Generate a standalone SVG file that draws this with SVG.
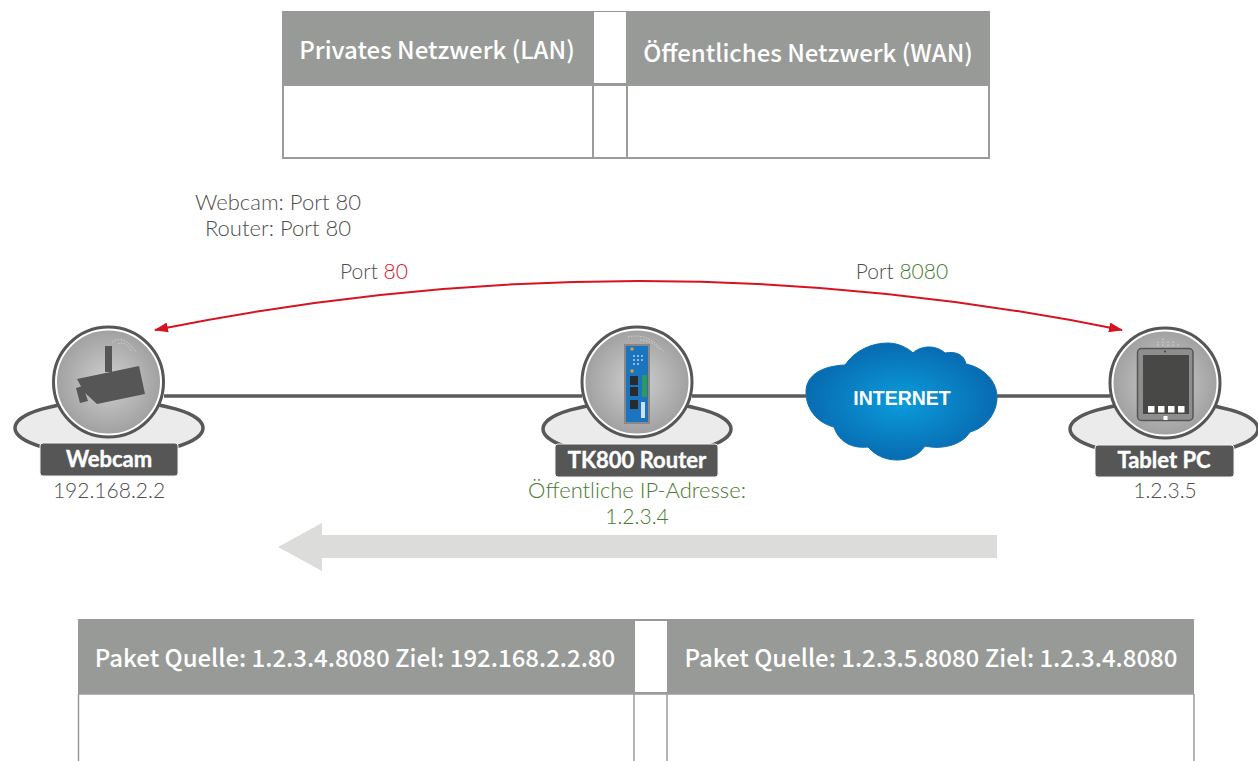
<svg xmlns="http://www.w3.org/2000/svg" width="1258" height="761" viewBox="0 0 1258 761">
<style>
.hd{fill:#989a98}
.bd{fill:#fff;stroke:#9a9c9a;stroke-width:2}
.th{font-family:"Noto Sans CJK SC","Source Sans Pro","Noto Sans",sans-serif;font-weight:500;font-size:24px;fill:#fff;text-anchor:middle}
.t{font-family:Lato,"Noto Sans",sans-serif;font-weight:300;font-size:22px;fill:#4f4f4f;text-anchor:middle}
.s{font-size:21px}
.g{fill:#4a7a30}
.r{fill:#d8121f}
.lb{font-family:Lato,"Open Sans",sans-serif;font-weight:700;font-size:22px;fill:#fff;stroke:#fff;stroke-width:.4;text-anchor:middle}
.pl{fill:#555655;stroke:#f2f2f2;stroke-width:1}
.el{fill:#ebebeb;stroke:#585858;stroke-width:3.5}
.disc{fill:url(#disc);stroke:#fff;stroke-width:3}
.ring{fill:none;stroke:#565656;stroke-width:3}
.link{stroke:#5b5b5b;stroke-width:3.5;fill:none}
.ic{fill:#565656}
.wv{fill:none;stroke:#d6d6d6;stroke-width:1;stroke-dasharray:1.500 1.500}
</style>
<defs>
<radialGradient id="disc" cx="50%" cy="50%" r="50%"><stop offset="0" stop-color="#d0d0d0"/><stop offset="1" stop-color="#a0a0a0"/></radialGradient>
<radialGradient id="cl" cx="50%" cy="50%" r="55%"><stop offset="0" stop-color="#0a9ddd"/><stop offset="1" stop-color="#0866ac"/></radialGradient>
<marker id="ah" viewBox="0 0 14 10" refX="13" refY="5" markerWidth="14" markerHeight="10" markerUnits="userSpaceOnUse" orient="auto-start-reverse"><path d="M0 0L14 5L0 10Z" fill="#d8121f"/></marker>
</defs>

<g id="table-top">
<rect class="hd" x="282" y="11" width="708" height="73"/>
<rect x="594" y="12" width="32" height="71" fill="#fff"/>
<rect class="bd" x="283" y="85" width="310" height="73"/>
<rect class="bd" x="593" y="85" width="34" height="73"/>
<rect class="bd" x="627" y="85" width="362" height="73"/>
<text class="th" x="437" y="59">Privates Netzwerk (LAN)</text>
<text class="th" x="808" y="62">Öffentliches Netzwerk (WAN)</text>
</g>

<g id="labels">
<text class="t" x="278" y="210">Webcam: Port 80</text>
<text class="t" x="278" y="236">Router: Port 80</text>
<text class="t s" x="374" y="279">Port <tspan class="r">80</tspan></text>
<text class="t s" x="902" y="279">Port <tspan class="g">8080</tspan></text>
</g>

<g id="connectors">
<path class="link" d="M164 396H582M692 396H806M997 396H1110"/>
<path d="M155 330Q639 232 1122 330" fill="none" stroke="#d8121f" stroke-width="2" marker-start="url(#ah)" marker-end="url(#ah)"/>
<path id="flow-arrow" d="M997 535H322V523L278 547L322 571V558H997Z" fill="#dcdcda"/>
</g>

<g id="node-webcam">
<ellipse class="el" cx="109" cy="428" rx="94" ry="27"/>
<circle class="disc" cx="108.500" cy="382" r="53"/>
<circle class="ring" cx="108.500" cy="382" r="55"/>
<path class="wv" d="M112 342Q124 334 136 352M118 344Q126 340 132 352"/>
<path class="ic" d="M105 346H112V372H105ZM77 379L139 366L145 394L97 404L84 392Z"/>
<path class="ic" d="M76 388L83 386L88 401L80 403Z"/>
<rect class="pl" x="40" y="443" width="138" height="33" rx="3"/>
<text class="lb" x="109" y="467">Webcam</text>
<text class="t s" x="109" y="498">192.168.2.2</text>
</g>

<g id="node-router">
<ellipse class="el" cx="637" cy="429" rx="94" ry="27"/>
<circle class="disc" cx="637" cy="382" r="53"/>
<circle class="ring" cx="637" cy="382" r="55"/>
<path class="wv" d="M628 337Q648 332 664 352M640 340Q652 340 660 350"/>
<rect x="624" y="344" width="26" height="80" fill="#888"/>
<rect x="626" y="346" width="22" height="76" fill="#1a74c0"/>
<circle cx="632" cy="349" r="1.800" fill="#d89a3a"/>
<circle cx="632" cy="371" r="1.800" fill="#d89a3a"/>
<g fill="#b8cfe4"><circle cx="634" cy="356" r="1"/><circle cx="638" cy="356" r="1"/><circle cx="642" cy="356" r="1"/><circle cx="634" cy="360" r="1"/><circle cx="638" cy="360" r="1"/><circle cx="642" cy="360" r="1"/><circle cx="634" cy="364" r="1"/><circle cx="638" cy="364" r="1"/></g>
<rect x="630" y="376" width="8" height="9" fill="#2a2a2a"/>
<rect x="630" y="387" width="8" height="9" fill="#2a2a2a"/>
<rect x="630" y="400" width="8" height="9" fill="#2a2a2a"/>
<rect x="642" y="375" width="5" height="22" fill="#2f9a58"/>
<rect x="641" y="402" width="4" height="16" fill="#cfe0f0"/>
<rect x="555" y="444" width="163" height="33" rx="3" class="pl"/>
<text class="lb" x="637" y="468">TK800 Router</text>
<text class="t g" x="637" y="498">Öffentliche IP-Adresse:</text>
<text class="t s g" x="637" y="524">1.2.3.4</text>
</g>

<g id="node-internet">
<path d="M806 392C806 375 822 366 845 365C855 350 872 343 888 343C898 343 908 348 913 353C920 346 935 344 945 353C955 351 964 354 966 364C985 368 997 382 997 397C997 414 985 428 970 432C962 445 942 450 925 446C918 456 908 460 897 460C885 460 875 455 868 447C850 449 838 440 834 427C818 423 806 410 806 392Z" fill="url(#cl)" stroke="#0a70b5" stroke-width="1"/>
<text x="902" y="405" font-family="Liberation Sans,Arial,sans-serif" font-weight="700" font-size="19.500" fill="#fff" text-anchor="middle">INTERNET</text>
</g>

<g id="node-tablet">
<ellipse class="el" cx="1164" cy="429" rx="94" ry="27"/>
<circle class="disc" cx="1165" cy="383" r="53"/>
<circle class="ring" cx="1165" cy="383" r="55"/>
<path class="wv" d="M1163 346V338M1168 346V340M1173 346V341M1178 346V343M1158 346V342"/>
<rect x="1137.500" y="348.500" width="55.500" height="72" rx="4" fill="#8e8e8e" stroke="#555" stroke-width="1.500"/>
<rect x="1143" y="355" width="46" height="59" fill="#484847"/>
<g fill="#fff"><rect x="1148" y="406" width="6.500" height="6.500"/><rect x="1158" y="406" width="6.500" height="6.500"/><rect x="1168" y="406" width="6.500" height="6.500"/><rect x="1178" y="406" width="6.500" height="6.500"/><rect x="1163.500" y="416" width="4" height="4"/></g>
<circle cx="1165" cy="351.500" r="1" fill="#444"/>
<rect class="pl" x="1095" y="445" width="139" height="32" rx="3"/>
<text class="lb" x="1164" y="468">Tablet PC</text>
<text class="t s" x="1165" y="498">1.2.3.5</text>
</g>

<g id="table-bottom">
<rect class="hd" x="78" y="619" width="1116" height="75"/>
<rect x="635" y="621" width="32" height="71" fill="#fff"/>
<path d="M78.500 694V761M634 694V761M667 694V761M1194 694V761M78 694H1194" fill="none" stroke="#9a9c9a" stroke-width="1.500"/>
<text class="th" x="355" y="667">Paket Quelle: 1.2.3.4.8080 Ziel: 192.168.2.2.80</text>
<text class="th" x="931" y="667">Paket Quelle: 1.2.3.5.8080 Ziel: 1.2.3.4.8080</text>
</g>
</svg>
